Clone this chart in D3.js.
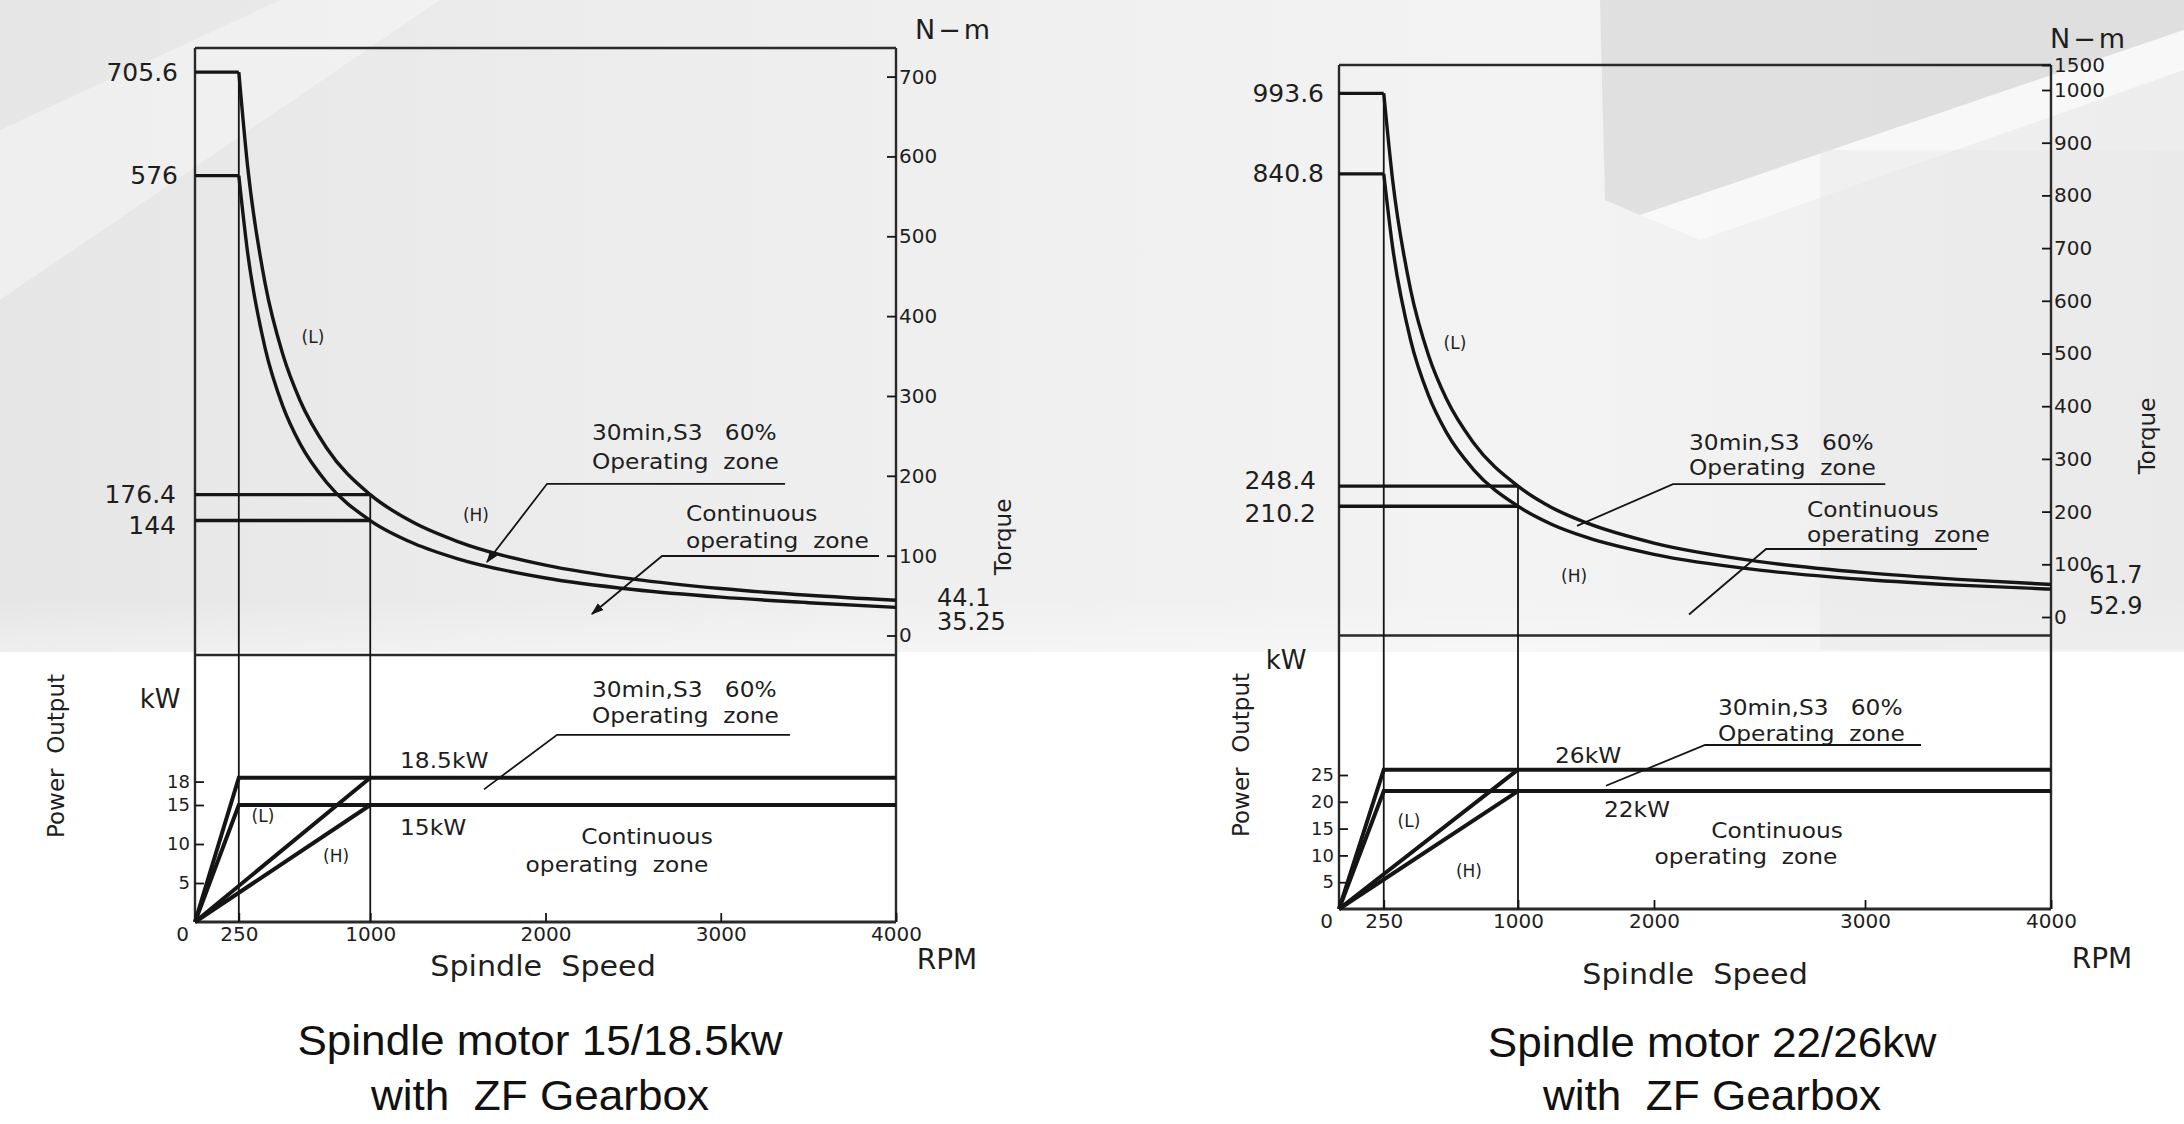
<!DOCTYPE html>
<html>
<head>
<meta charset="utf-8">
<script src="https://cdn.jsdelivr.net/npm/d3@7"></script>
<style>
  body { margin: 0; background: #fff; }
  svg { display: block; }
  text { white-space: pre; }
</style>
</head>
<body>
<div id="chart"></div>
<script>
// ---------------- data ----------------
var speedTicks  = [0, 250, 1000, 2000, 3000, 4000];
var baseSpeeds  = [250, 1000];          // (L) low gear, (H) high gear
var maxSpeed    = 4000;
var curveSpeeds = [250, 300, 400, 500, 600, 750, 1000, 1250, 1500, 2000, 2500, 3000, 3500, 4000];

// Spindle motor 15/18.5kw
var m1TorqueS3    = [705.6, 588, 441, 352.8, 294, 235.2, 176.4, 141.1, 117.6, 88.2, 70.6, 58.8, 50.4, 44.1];
var m1TorqueCont  = [576, 480, 360, 288, 240, 192, 144, 115.2, 96, 72, 57.6, 48, 41.1, 35.25];
var m1TorqueHigh  = [176.4, 144];
var m1PowerRated  = [18.5, 15];
var m1TorqueTicks = [0, 100, 200, 300, 400, 500, 600, 700];
var m1PowerTicks  = [5, 10, 15, 18];
var m1EndLabels   = ["44.1", "35.25"];
var m1Title       = ["Spindle motor 15/18.5kw", "with  ZF Gearbox"];

// Spindle motor 22/26kw (curve read against the drawn speed ticks)
var m2TorqueS3    = [993.6, 828, 621, 496.8, 414, 331.2, 248.4, 207.5, 179, 140.3, 105.2, 84.1, 71.4, 61.7];
var m2TorqueCont  = [840.8, 700.7, 525.5, 420.4, 350.3, 280.3, 210.2, 175.6, 151.4, 118.8, 89, 71.1, 60.4, 52.9];
var m2TorqueHigh  = [248.4, 210.2];
var m2PowerRated  = [26, 22];
var m2TorqueTicks = [0, 100, 200, 300, 400, 500, 600, 700, 800, 900, 1000, 1500];
var m2PowerTicks  = [5, 10, 15, 20, 25];
var m2EndLabels   = ["61.7", "52.9"];
var m2Title       = ["Spindle motor 22/26kw", "with  ZF Gearbox"];

var s3Text   = ["30min,S3   60%", "Operating  zone"];
var contText = ["Continuous", "operating  zone"];

// ---------------- layout ----------------
var CAD = "'DejaVu Sans', sans-serif";
var INK = "#151515";

var svg = d3.select("#chart").append("svg")
  .attr("width", 2184).attr("height", 1124);

// background (light photo-like wash on top half)
var defs = svg.append("defs");
var bg = defs.append("linearGradient").attr("id", "bgTop")
  .attr("x1", 0).attr("y1", 0).attr("x2", 1).attr("y2", 0);
bg.append("stop").attr("offset", 0).attr("stop-color", "#e6e6e6");
bg.append("stop").attr("offset", 0.35).attr("stop-color", "#eeeeee");
bg.append("stop").attr("offset", 0.7).attr("stop-color", "#f3f3f3");
bg.append("stop").attr("offset", 1).attr("stop-color", "#ededed");
var fade = defs.append("linearGradient").attr("id", "bgFade")
  .attr("x1", 0).attr("y1", 0).attr("x2", 0).attr("y2", 1);
fade.append("stop").attr("offset", 0).attr("stop-color", "#fff").attr("stop-opacity", 0);
fade.append("stop").attr("offset", 1).attr("stop-color", "#fff").attr("stop-opacity", 1);

defs.append("marker").attr("id", "arrow")
  .attr("viewBox", "0 0 10 10").attr("refX", 9).attr("refY", 5)
  .attr("markerWidth", 7).attr("markerHeight", 7).attr("orient", "auto")
  .append("path").attr("d", "M0,1.5 L10,5 L0,8.5 Z").attr("fill", INK);

svg.append("rect").attr("width", 2184).attr("height", 1124).attr("fill", "#fff");
svg.append("rect").attr("width", 2184).attr("height", 652).attr("fill", "url(#bgTop)");
svg.append("rect").attr("y", 600).attr("width", 2184).attr("height", 52).attr("fill", "url(#bgFade)").attr("opacity", 0.35);
svg.append("polygon").attr("points", "0,130 0,300 440,0 280,0").attr("fill", "#fff").attr("opacity", 0.35);
svg.append("polygon").attr("points", "1600,0 2184,0 2184,30 1640,215 1605,200").attr("fill", "#d9d9d9").attr("opacity", 0.7);
svg.append("polygon").attr("points", "1640,215 2184,30 2184,70 1700,240").attr("fill", "#fafafa").attr("opacity", 0.8);
svg.append("rect").attr("x", 1820).attr("y", 150).attr("width", 364).attr("height", 500).attr("fill", "#e6e6e6").attr("opacity", 0.45);

function txt(sel, x, y, s, o) {
  o = o || {};
  var tf = "translate(" + x + "," + y + ")";
  if (o.rot) tf += " rotate(" + o.rot + ")";
  if (o.sx) tf += " scale(" + o.sx + ",1)";
  return sel.append("text")
    .attr("transform", tf)
    .attr("font-family", o.font || CAD)
    .attr("font-size", o.size || 22)
    .attr("text-anchor", o.anchor || "start")
    .attr("dominant-baseline", o.base ? "alphabetic" : "central")
    .attr("letter-spacing", o.ls || null)
    .attr("fill", o.fill || "#1e1e1e")
    .text(s);
}

function drawChart(c) {
  var g = svg.append("g");
  var x = d3.scaleLinear().domain(speedTicks.slice(0, 1).concat(c.xKnots))
    .range([c.left].concat(c.xFrac.map(function (f) { return c.left + f * (c.right - c.left); })));
  var yT = d3.scaleLinear().domain(c.tDomain).range(c.tRange);
  var yP = d3.scaleLinear().domain(c.pDomain).range(c.pRange);

  var line = d3.line().x(function (d) { return x(d[0]); }).y(function (d) { return d[1]; });
  var curve = d3.line().curve(d3.curveMonotoneX)
    .x(function (d) { return x(d[0]); }).y(function (d) { return yT(d[1]); });

  // frame
  var frame = [
    [[c.left, c.top], [c.right, c.top]],
    [[c.left, c.top], [c.left, c.axisY]],
    [[c.right, c.top], [c.right, c.axisY]],
    [[c.left, c.divider], [c.right, c.divider]]
  ];
  g.selectAll(".frame").data(frame).enter().append("path")
    .attr("d", function (d) { return d3.line()(d); })
    .attr("stroke", "#2a2a2a").attr("stroke-width", 2.4).attr("fill", "none");
  g.append("path").attr("d", d3.line()([[c.left, c.axisY], [c.right, c.axisY]]))
    .attr("stroke", "#2a2a2a").attr("stroke-width", 3).attr("fill", "none");

  // base-speed verticals, through both panels
  g.append("path")
    .attr("d", line([[baseSpeeds[0], yT(c.torqueS3[0])], [baseSpeeds[0], yP(0)]]))
    .attr("stroke", INK).attr("stroke-width", 1.8).attr("fill", "none");
  g.append("path")
    .attr("d", line([[baseSpeeds[1], yT(c.torqueHigh[0])], [baseSpeeds[1], yP(0)]]))
    .attr("stroke", INK).attr("stroke-width", 1.8).attr("fill", "none");

  // torque: flats + constant power curves
  var flats = [
    [[0, c.torqueS3[0]], [baseSpeeds[0], c.torqueS3[0]]],
    [[0, c.torqueCont[0]], [baseSpeeds[0], c.torqueCont[0]]],
    [[0, c.torqueHigh[0]], [baseSpeeds[1], c.torqueHigh[0]]],
    [[0, c.torqueHigh[1]], [baseSpeeds[1], c.torqueHigh[1]]]
  ];
  g.selectAll(".flat").data(flats).enter().append("path")
    .attr("d", function (d) { return line(d.map(function (p) { return [p[0], yT(p[1])]; })); })
    .attr("stroke", INK).attr("stroke-width", 3.4).attr("fill", "none");
  [c.torqueS3, c.torqueCont].forEach(function (arr) {
    g.append("path")
      .attr("d", curve(curveSpeeds.map(function (s, i) { return [s, arr[i]]; })))
      .attr("stroke", INK).attr("stroke-width", 3.4).attr("fill", "none");
  });

  // power lines
  var pLines = [];
  c.power.forEach(function (p) {
    pLines.push([[0, 0], [baseSpeeds[0], p], [maxSpeed, p]]);
    pLines.push([[0, 0], [baseSpeeds[1], p]]);
  });
  g.selectAll(".pl").data(pLines).enter().append("path")
    .attr("d", function (d) { return line(d.map(function (p) { return [p[0], yP(p[1])]; })); })
    .attr("stroke", INK).attr("stroke-width", 4).attr("stroke-linejoin", "miter").attr("fill", "none");

  // axes
  var aT = g.append("g").attr("transform", "translate(" + c.right + ",0)")
    .call(d3.axisRight(yT).tickValues(c.torqueTicks).tickSizeInner(-9).tickSizeOuter(0).tickPadding(3).tickFormat(d3.format("d")));
  var aP = g.append("g").attr("transform", "translate(" + c.left + ",0)")
    .call(d3.axisLeft(yP).tickValues(c.powerTicks).tickSizeInner(-9).tickSizeOuter(0).tickPadding(5).tickFormat(d3.format("d")));
  var aX = g.append("g").attr("transform", "translate(0," + c.axisY + ")")
    .call(d3.axisBottom(x).tickValues(speedTicks).tickSizeInner(-9).tickSizeOuter(0).tickPadding(5).tickFormat(d3.format("d")));
  [aT, aP, aX].forEach(function (a) {
    a.select(".domain").remove();
    a.selectAll("line").attr("stroke", INK).attr("stroke-width", 1.8);
    a.selectAll("text").attr("font-family", CAD).attr("fill", "#1e1e1e");
  });
  aT.selectAll("text").attr("font-size", 20);
  aP.selectAll("text").attr("font-size", 18);
  aX.selectAll("text").attr("font-size", 20)
    .attr("dx", function (d) { return d === 0 ? -13 : 0; });

  // torque value marks on the left
  [c.torqueS3[0], c.torqueCont[0], c.torqueHigh[0], c.torqueHigh[1]].forEach(function (v, i) {
    txt(g, c.markX[i], yT(v) + c.markDy[i], String(v), { size: 25, anchor: "end" });
  });
  // end-of-curve values
  c.endLabels.forEach(function (s, i) {
    txt(g, c.endX, c.endY[i], s, { size: 24 });
  });

  // in-plot annotations
  c.torqueNotes.forEach(function (n) {
    txt(g, x(n.s), yT(n.v), n.t, { size: n.size || 22, anchor: n.a || "start", sx: n.size ? null : 1.06 });
  });
  c.powerNotes.forEach(function (n) {
    txt(g, x(n.s), yP(n.v), n.t, { size: n.size || 22, anchor: n.a || "start", sx: n.size ? null : 1.06 });
  });
  c.torqueLeaders.forEach(function (l) {
    g.append("path").attr("d", line(l.pts.map(function (p) { return [p[0], yT(p[1])]; })))
      .attr("stroke", INK).attr("stroke-width", 1.8).attr("fill", "none")
      .attr("marker-end", l.arrow ? "url(#arrow)" : null);
  });
  c.powerLeaders.forEach(function (l) {
    g.append("path").attr("d", line(l.pts.map(function (p) { return [p[0], yP(p[1])]; })))
      .attr("stroke", INK).attr("stroke-width", 1.8).attr("fill", "none");
  });

  // axis titles
  txt(g, c.nm[0], c.nm[1], "N\u2212m", { size: 27, anchor: "middle", ls: 3 });
  txt(g, c.torque[0], c.torque[1], "Torque", { size: 23, anchor: "middle", rot: -90 });
  txt(g, c.powerOut[0], c.powerOut[1], "Power  Output", { size: 23, anchor: "middle", rot: -90 });
  txt(g, c.kw[0], c.kw[1], "kW", { size: 26, anchor: "middle" });
  txt(g, c.speed[0], c.speed[1], "Spindle  Speed", { size: 29, anchor: "middle", sx: 1.04 });
  txt(g, c.rpm[0], c.rpm[1], "RPM", { size: 28, anchor: "middle" });

  // title
  c.title.forEach(function (s, i) {
    txt(g, c.titleX, c.titleY[i], s, { font: "'Liberation Sans', Arial, sans-serif", size: 42, anchor: "middle", sx: 1.05, fill: "#111", base: true });
  });
}

drawChart({
  left: 195, right: 896, top: 48, divider: 655, axisY: 922,
  xKnots: [4000], xFrac: [1],
  tDomain: [0, 700], tRange: [635.5, 76.6],
  pDomain: [0, 30], pRange: [922, 688],
  torqueS3: m1TorqueS3, torqueCont: m1TorqueCont, torqueHigh: m1TorqueHigh, power: m1PowerRated,
  torqueTicks: m1TorqueTicks, powerTicks: m1PowerTicks,
  markX: [178, 178, 176, 176], markDy: [0, 0, 0, 5],
  endLabels: m1EndLabels, endX: 937, endY: [598, 622],
  torqueNotes: [
    { t: "(L)", s: 673, v: 374, a: "middle", size: 17 },
    { t: "(H)", s: 1603, v: 151, a: "middle", size: 17 },
    { t: s3Text[0], s: 2265, v: 254 },
    { t: s3Text[1], s: 2265, v: 218.5 },
    { t: contText[0], s: 2801, v: 153 },
    { t: contText[1], s: 2801, v: 119.6 }
  ],
  torqueLeaders: [
    { pts: [[3367, 190], [2009, 190], [1666, 92]], arrow: true },
    { pts: [[3903, 99.6], [2665, 99.6], [2265, 27]], arrow: true }
  ],
  powerNotes: [
    { t: s3Text[0], s: 2265, v: 29.9 },
    { t: s3Text[1], s: 2265, v: 26.5 },
    { t: m1PowerRated[0] + "kW", s: 1170, v: 20.8 },
    { t: m1PowerRated[1] + "kW", s: 1170, v: 12.2 },
    { t: "(L)", s: 388, v: 13.6, a: "middle", size: 17 },
    { t: "(H)", s: 805, v: 8.5, a: "middle", size: 17 },
    { t: contText[0], s: 2579, v: 11, a: "middle" },
    { t: contText[1], s: 2408, v: 7.4, a: "middle" }
  ],
  powerLeaders: [ { pts: [[3395, 24], [2066, 24], [1649, 17]] } ],
  nm: [954, 29], torque: [1003, 537], powerOut: [56, 756], kw: [160, 699],
  speed: [543, 966], rpm: [947, 959],
  title: m1Title, titleX: 540, titleY: [1055, 1110]
});

drawChart({
  left: 1339, right: 2051, top: 65, divider: 635.5, axisY: 909,
  xKnots: [1000, 2000, 3000, 4000], xFrac: [0.2514, 0.4424, 0.7388, 1],
  tDomain: [0, 1000, 1500], tRange: [617, 90, 65],
  pDomain: [0, 25], pRange: [909, 775],
  torqueS3: m2TorqueS3, torqueCont: m2TorqueCont, torqueHigh: m2TorqueHigh, power: m2PowerRated,
  torqueTicks: m2TorqueTicks, powerTicks: m2PowerTicks,
  markX: [1324, 1324, 1316, 1316], markDy: [0, 0, -6, 7],
  endLabels: m2EndLabels, endX: 2089, endY: [574.5, 606],
  torqueNotes: [
    { t: "(L)", s: 648, v: 520, a: "middle", size: 17 },
    { t: "(H)", s: 1412, v: 78, a: "middle", size: 17 },
    { t: s3Text[0], s: 2166, v: 332 },
    { t: s3Text[1], s: 2166, v: 285 },
    { t: contText[0], s: 2725, v: 205 },
    { t: contText[1], s: 2725, v: 156.6 }
  ],
  torqueLeaders: [
    { pts: [[3109, 252], [2090, 252], [1434, 173]] },
    { pts: [[3602, 129], [2531, 129], [2166, 4.7]] }
  ],
  powerNotes: [
    { t: s3Text[0], s: 2303, v: 37.7 },
    { t: s3Text[1], s: 2303, v: 32.8 },
    { t: m2PowerRated[0] + "kW", s: 1272, v: 28.7 },
    { t: m2PowerRated[1] + "kW", s: 1632, v: 18.7 },
    { t: "(L)", s: 391, v: 16.5, a: "middle", size: 17 },
    { t: "(H)", s: 726, v: 7.1, a: "middle", size: 17 },
    { t: contText[0], s: 2583, v: 14.7, a: "middle" },
    { t: contText[1], s: 2436, v: 9.9, a: "middle" }
  ],
  powerLeaders: [ { pts: [[3301, 30.6], [2242, 30.6], [1647, 23]] } ],
  nm: [2089, 38], torque: [2147, 436], powerOut: [1241, 755], kw: [1286, 660],
  speed: [1695, 974], rpm: [2102, 958],
  title: m2Title, titleX: 1712, titleY: [1057, 1110]
});
</script>
</body>
</html>
